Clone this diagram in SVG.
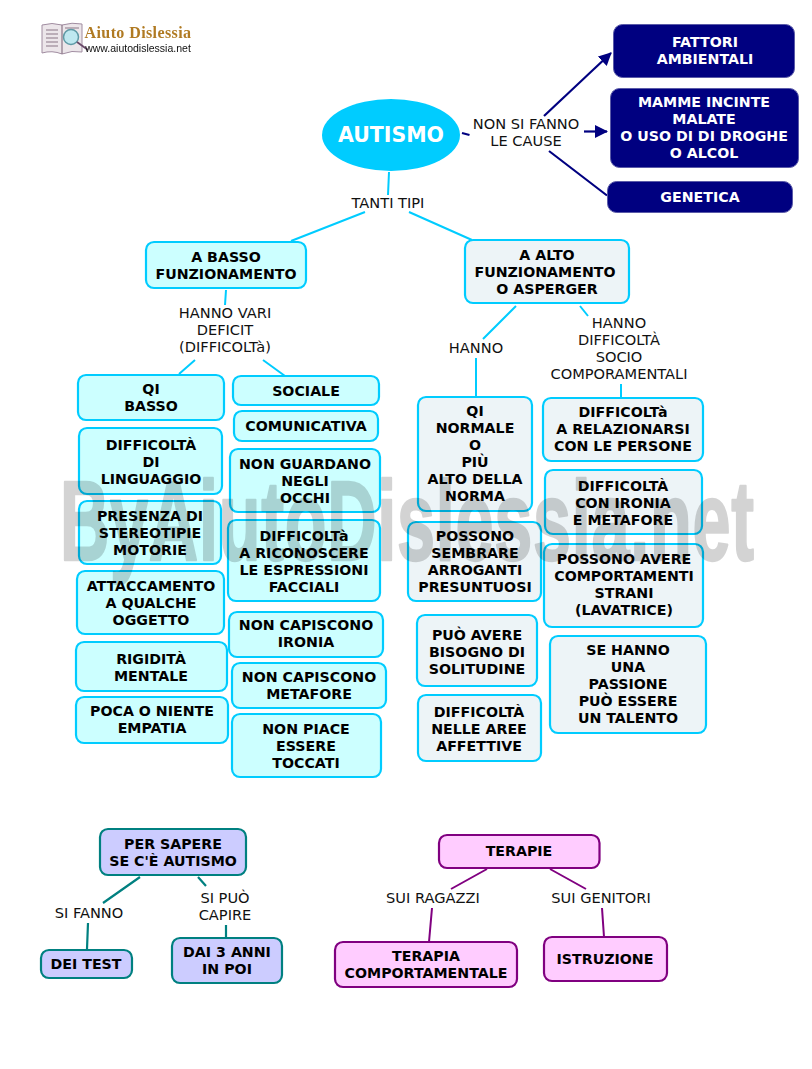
<svg xmlns="http://www.w3.org/2000/svg" width="812" height="1069" viewBox="0 0 812 1069">
<style>
text{font-family:"DejaVu Sans","Verdana",sans-serif;font-size:14.6px;text-anchor:middle;fill:#111}
.b{font-weight:bold;font-size:14.2px;fill:#000}
.w{fill:#fff}
.cy{fill:#ccffff;stroke:#00ccff;stroke-width:2.2}
.gr{fill:#edf4f7;stroke:#00ccff;stroke-width:2.2}
.nv{fill:#000080;stroke:#5a5aa8;stroke-width:1}
.pu{fill:#ccccff;stroke:#008080;stroke-width:2.2}
.pk{fill:#ffccff;stroke:#800080;stroke-width:2.2}
.lc{stroke:#00ccff;stroke-width:2;fill:none}
.ln{stroke:#000080;stroke-width:2.2;fill:none}
.lt{stroke:#008080;stroke-width:2.2;fill:none}
.lp{stroke:#800080;stroke-width:2;fill:none}
</style>
<defs>
<marker id="a" markerUnits="userSpaceOnUse" markerWidth="14" markerHeight="14" refX="12" refY="6.500" orient="auto"><path d="M0 0L13 6.500L0 13z" fill="#000080"/></marker>
<filter id="soft" x="-5%" y="-5%" width="110%" height="110%"><feGaussianBlur stdDeviation="0.5"/></filter>
</defs>
<g id="logo" filter="url(#soft)">
<path d="M42 25Q52 22 62 25Q72 22 82 24V52Q72 50 62 54Q52 50 42 53z" fill="#ece6ea" stroke="#a08ca0"/>
<path d="M62 25V54M46 30H58M46 34H58M46 38H58M46 42H58M46 46H58M65 28H79" stroke="#8a7686" stroke-width="1.200"/>
<circle cx="71" cy="37" r="7.500" fill="#bfe8f0" stroke="#5f9aa6" stroke-width="1.500"/>
<path d="M77 42L88 50" stroke="#6a4a6a" stroke-width="1.800"/>
<text x="138" y="38" style="font-family:'Liberation Serif',serif;font-size:16px;font-weight:bold;fill:#b07a22;letter-spacing:.4px">Aiuto Dislessia</text>
<text x="138" y="52" style="font-family:'Liberation Sans',sans-serif;font-size:10.500px;fill:#111">www.aiutodislessia.net</text>
</g>
<g id="connectors">
<path class="ln" d="M544 116L611 53" marker-end="url(#a)"/>
<path class="ln" d="M584 131.500L607 131.500" marker-end="url(#a)"/>
<path class="ln" d="M549 151L607 195.500M462 133L469.500 135"/>
<path class="lc" d="M389 172L388 195M365 212L291 241M409 212L472 240M226 290L225 305M195 360L179 374M263 360L285 376M516 306L483 339M476 358V397M580 306L588 316M621 384V397"/>
<path class="lt" d="M140 877L103 903M198 877L206 886M88 923L87 949M226 925V937"/>
<path class="lp" d="M487 869L451 889M550 869L586 889M432 908L429 942M602 908L604 937"/>
</g>
<g id="autismo"><ellipse cx="391" cy="135" rx="69" ry="36" fill="#00ccff"/><text class="b w" x="391" y="142" style="font-size:20.500px">AUTISMO</text></g>
<g id="n1"><rect class="nv" x="613.500" y="24.500" width="181" height="53" rx="9"/><text class="b w" x="705" y="47">FATTORI</text><text class="b w" x="705" y="64">AMBIENTALI</text></g>
<g id="n2"><rect class="nv" x="610.500" y="88.500" width="188" height="79" rx="9"/><text class="b w" x="704" y="107">MAMME INCINTE</text><text class="b w" x="704" y="124">MALATE</text><text class="b w" x="704" y="141">O USO DI DI DROGHE</text><text class="b w" x="704" y="158">O ALCOL</text></g>
<g id="n3"><rect class="nv" x="607.500" y="181.500" width="185" height="31" rx="9"/><text class="b w" x="700" y="202">GENETICA</text></g>
<g id="l1"><text x="526" y="129">NON SI FANNO</text><text x="526" y="146">LE CAUSE</text></g>
<g id="l2"><text x="388" y="208">TANTI TIPI</text></g>
<g id="n4"><rect class="cy" x="146" y="242" width="160" height="46" rx="8"/><text class="b" x="226" y="262">A BASSO</text><text class="b" x="226" y="279">FUNZIONAMENTO</text></g>
<g id="n5"><rect class="gr" x="465" y="240" width="164" height="63" rx="8"/><text class="b" x="547" y="260">A ALTO</text><text class="b" x="545" y="277">FUNZIONAMENTO</text><text class="b" x="547" y="294">O ASPERGER</text></g>
<g id="l3"><text x="225" y="318">HANNO VARI</text><text x="225" y="335">DEFICIT</text><text x="225" y="352">(DIFFICOLTà)</text></g>
<g id="l4"><text x="476" y="353">HANNO</text></g>
<g id="l5"><text x="619" y="328">HANNO</text><text x="619" y="345">DIFFICOLTÀ</text><text x="619" y="362">SOCIO</text><text x="619" y="379">COMPORAMENTALI</text></g>
<g id="n6"><rect class="cy" x="78" y="375" width="146" height="45" rx="8"/><text class="b" x="151" y="394">QI</text><text class="b" x="151" y="411">BASSO</text></g>
<g id="n7"><rect class="cy" x="79" y="428" width="143" height="66" rx="8"/><text class="b" x="151" y="450">DIFFICOLTÀ</text><text class="b" x="151" y="467">DI</text><text class="b" x="151" y="484">LINGUAGGIO</text></g>
<g id="n8"><rect class="cy" x="79" y="501" width="142" height="63" rx="8"/><text class="b" x="150" y="521">PRESENZA DI</text><text class="b" x="150" y="538">STEREOTIPIE</text><text class="b" x="150" y="555">MOTORIE</text></g>
<g id="n9"><rect class="cy" x="77" y="571" width="147" height="63" rx="8"/><text class="b" x="151" y="591">ATTACCAMENTO</text><text class="b" x="151" y="608">A QUALCHE</text><text class="b" x="151" y="625">OGGETTO</text></g>
<g id="n10"><rect class="cy" x="76" y="642" width="151" height="49" rx="8"/><text class="b" x="151" y="664">RIGIDITÀ</text><text class="b" x="151" y="681">MENTALE</text></g>
<g id="n11"><rect class="cy" x="76" y="697" width="152" height="46" rx="8"/><text class="b" x="152" y="716">POCA O NIENTE</text><text class="b" x="152" y="733">EMPATIA</text></g>
<g id="n12"><rect class="cy" x="233" y="376" width="146" height="29" rx="8"/><text class="b" x="306" y="396">SOCIALE</text></g>
<g id="n13"><rect class="cy" x="234" y="411" width="144" height="30" rx="8"/><text class="b" x="306" y="431">COMUNICATIVA</text></g>
<g id="n14"><rect class="cy" x="230" y="449" width="150" height="63" rx="8"/><text class="b" x="305" y="469">NON GUARDANO</text><text class="b" x="305" y="486">NEGLI</text><text class="b" x="305" y="503">OCCHI</text></g>
<g id="n15"><rect class="cy" x="228" y="520" width="152" height="81" rx="8"/><text class="b" x="304" y="541">DIFFICOLTà</text><text class="b" x="304" y="558">A RICONOSCERE</text><text class="b" x="304" y="575">LE ESPRESSIONI</text><text class="b" x="304" y="592">FACCIALI</text></g>
<g id="n16"><rect class="cy" x="229" y="612" width="154" height="45" rx="8"/><text class="b" x="306" y="630">NON CAPISCONO</text><text class="b" x="306" y="647">IRONIA</text></g>
<g id="n17"><rect class="cy" x="232" y="663" width="154" height="45" rx="8"/><text class="b" x="309" y="682">NON CAPISCONO</text><text class="b" x="309" y="699">METAFORE</text></g>
<g id="n18"><rect class="cy" x="232" y="714" width="149" height="63" rx="8"/><text class="b" x="306" y="734">NON PIACE</text><text class="b" x="306" y="751">ESSERE</text><text class="b" x="306" y="768">TOCCATI</text></g>
<g id="n19"><rect class="gr" x="418" y="397" width="114" height="114" rx="8"/><text class="b" x="475" y="416">QI</text><text class="b" x="475" y="433">NORMALE</text><text class="b" x="475" y="450">O</text><text class="b" x="475" y="467">PIÙ</text><text class="b" x="475" y="484">ALTO DELLA</text><text class="b" x="475" y="501">NORMA</text></g>
<g id="n20"><rect class="gr" x="408" y="522" width="133" height="79" rx="8"/><text class="b" x="475" y="541">POSSONO</text><text class="b" x="475" y="558">SEMBRARE</text><text class="b" x="475" y="575">ARROGANTI</text><text class="b" x="475" y="592">PRESUNTUOSI</text></g>
<g id="n21"><rect class="gr" x="417" y="615" width="120" height="71" rx="8"/><text class="b" x="477" y="640">PUÒ AVERE</text><text class="b" x="477" y="657">BISOGNO DI</text><text class="b" x="477" y="674">SOLITUDINE</text></g>
<g id="n22"><rect class="gr" x="418" y="695" width="123" height="66" rx="8"/><text class="b" x="479" y="717">DIFFICOLTÀ</text><text class="b" x="479" y="734">NELLE AREE</text><text class="b" x="479" y="751">AFFETTIVE</text></g>
<g id="n23"><rect class="gr" x="543" y="398" width="160" height="63" rx="8"/><text class="b" x="623" y="417">DIFFICOLTà</text><text class="b" x="623" y="434">A RELAZIONARSI</text><text class="b" x="623" y="451">CON LE PERSONE</text></g>
<g id="n24"><rect class="gr" x="545" y="470" width="157" height="64" rx="8"/><text class="b" x="623" y="491">DIFFICOLTÀ</text><text class="b" x="623" y="508">CON IRONIA</text><text class="b" x="623" y="525">E METAFORE</text></g>
<g id="n25"><rect class="gr" x="544" y="544" width="159" height="83" rx="8"/><text class="b" x="624" y="564">POSSONO AVERE</text><text class="b" x="624" y="581">COMPORTAMENTI</text><text class="b" x="624" y="598">STRANI</text><text class="b" x="624" y="615">(LAVATRICE)</text></g>
<g id="n26"><rect class="gr" x="550" y="636" width="156" height="97" rx="8"/><text class="b" x="628" y="655">SE HANNO</text><text class="b" x="628" y="672">UNA</text><text class="b" x="628" y="689">PASSIONE</text><text class="b" x="628" y="706">PUÒ ESSERE</text><text class="b" x="628" y="723">UN TALENTO</text></g>
<g id="n27"><rect class="pu" x="100" y="829" width="146" height="46" rx="8"/><text class="b" x="173" y="849">PER SAPERE</text><text class="b" x="173" y="866">SE C'È AUTISMO</text></g>
<g id="n28"><rect class="pu" x="41" y="950" width="91" height="28" rx="8"/><text class="b" x="86" y="969">DEI TEST</text></g>
<g id="n29"><rect class="pu" x="172" y="938" width="110" height="45" rx="8"/><text class="b" x="227" y="957">DAI 3 ANNI</text><text class="b" x="227" y="974">IN POI</text></g>
<g id="l6"><text x="89" y="918">SI FANNO</text></g>
<g id="l7"><text x="225" y="903">SI PUÒ</text><text x="225" y="920">CAPIRE</text></g>
<g id="n30"><rect class="pk" x="439" y="835" width="160.500" height="33" rx="8"/><text class="b" x="519" y="856">TERAPIE</text></g>
<g id="n31"><rect class="pk" x="335" y="942" width="182" height="45" rx="8"/><text class="b" x="426" y="961">TERAPIA</text><text class="b" x="426" y="978">COMPORTAMENTALE</text></g>
<g id="n32"><rect class="pk" x="544" y="937" width="123" height="44" rx="8"/><text class="b" x="605" y="964">ISTRUZIONE</text></g>
<g id="l8"><text x="433" y="903">SUI RAGAZZI</text></g>
<g id="l9"><text x="601" y="903">SUI GENITORI</text></g>
<g id="watermark" opacity=".17"><text transform="translate(60 560) scale(.6 1)" style="font-family:'Liberation Sans',sans-serif;font-weight:bold;font-size:114px;letter-spacing:1.200px;text-anchor:start;fill:#000;stroke:#000;stroke-width:2.500;stroke-linejoin:round">ByAiutoDislessia.net</text></g>
</svg>
